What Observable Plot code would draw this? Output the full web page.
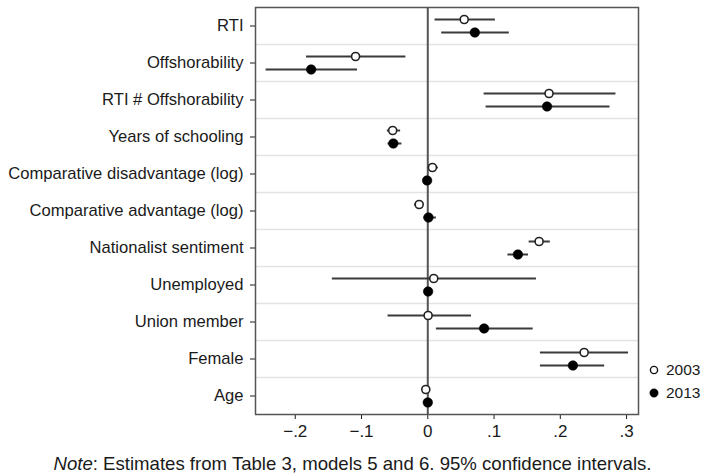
<!DOCTYPE html>
<html>
<head>
<meta charset="utf-8">
<script src="https://cdn.jsdelivr.net/npm/d3@7"></script>
<script src="https://cdn.jsdelivr.net/npm/@observablehq/plot@0.6"></script>
<style>
  html, body { margin: 0; padding: 0; background: #fff; }
</style>
</head>
<body>
<div id="chart"></div>
<script>
const variables = ["RTI", "Offshorability", "RTI # Offshorability", "Years of schooling",
  "Comparative disadvantage (log)", "Comparative advantage (log)", "Nationalist sentiment",
  "Unemployed", "Union member", "Female", "Age"];
const est2003 = [0.055, -0.109, 0.183, -0.053, 0.007, -0.013, 0.168, 0.009, 0.0005, 0.236, -0.003];
const lo2003  = [0.011, -0.183, 0.085, -0.061, 0.001, -0.020, 0.153, -0.144, -0.060, 0.170, -0.006];
const hi2003  = [0.102, -0.033, 0.284, -0.041, 0.016, -0.007, 0.185, 0.164, 0.066, 0.303, 0.000];
const est2013 = [0.071, -0.176, 0.180, -0.052, -0.001, 0.001, 0.136, 0.0005, 0.085, 0.219, 0.000];
const lo2013  = [0.021, -0.244, 0.088, -0.060, -0.006, -0.006, 0.121, -0.005, 0.013, 0.170, -0.004];
const hi2013  = [0.123, -0.106, 0.275, -0.039, 0.005, 0.013, 0.152, 0.005, 0.159, 0.267, 0.004];
const xTicks = [-0.2, -0.1, 0, 0.1, 0.2, 0.3];
const years = ["2003", "2013"];
const caption = ["Note", ": Estimates from Table 3, models 5 and 6. 95% confidence intervals."];

const d03 = variables.map((v, i) => ({v, est: est2003[i], lo: lo2003[i], hi: hi2003[i]}));
const d13 = variables.map((v, i) => ({v, est: est2013[i], lo: lo2013[i], hi: hi2013[i]}));

const fmt = d => d === 0 ? "0" : d3.format(".1f")(d).replace("0.", ".");
const off = 6.5;
const lineColor = "#3a3a3a";
const font = "'Liberation Sans', Arial, sans-serif";

const plot = Plot.plot({
  width: 705,
  height: 476,
  marginLeft: 255,
  marginRight: 67,
  marginTop: 7,
  marginBottom: 62,
  style: {fontFamily: font, fontSize: "16px", color: "#1a1a1a"},
  x: {domain: [-0.26, 0.318], label: null},
  y: {type: "band", domain: variables, padding: 0, label: null},
  marks: [
    Plot.ruleY(variables.slice(1), {stroke: "#e3e3e3", strokeWidth: 1.5, dy: -18.5}),
    Plot.ruleX([0], {stroke: "#555", strokeWidth: 2}),
    Plot.ruleY(d03, {y: "v", x1: "lo", x2: "hi", dy: -off, stroke: lineColor, strokeWidth: 2}),
    Plot.ruleY(d13, {y: "v", x1: "lo", x2: "hi", dy: off, stroke: lineColor, strokeWidth: 2}),
    Plot.dot(d03, {y: "v", x: "est", dy: -off, r: 4, fill: "white", stroke: "#222", strokeWidth: 1.6}),
    Plot.dot(d13, {y: "v", x: "est", dy: off, r: 4.8, fill: "#000", stroke: "#000", strokeWidth: 0.5}),
    Plot.axisX({ticks: xTicks, tickFormat: fmt, tickSize: 5, tickPadding: 5, fontSize: 17, label: null}),
    Plot.axisY({tickSize: 5, tickPadding: 7, fontSize: 16.6, label: null}),
    Plot.frame({stroke: "#555", strokeWidth: 1.5})
  ]
});
document.getElementById("chart").appendChild(plot);

const svg = d3.select(plot);
// legend
const leg = svg.append("g").attr("font-size", 15.5).attr("fill", "#1a1a1a").attr("text-anchor", "start");
years.forEach((yr, i) => {
  const cy = 370 + i * 23;
  leg.append("circle").attr("cx", 654).attr("cy", cy).attr("r", i === 0 ? 3.6 : 4.2)
    .attr("fill", i === 0 ? "white" : "black").attr("stroke", "#111").attr("stroke-width", i === 0 ? 1.4 : 0.5);
  leg.append("text").attr("x", 666).attr("y", cy).attr("dy", "0.35em").text(yr);
});
// caption
const cap = svg.append("text").attr("x", 352.5).attr("y", 463).attr("dy", "0.35em")
  .attr("text-anchor", "middle").attr("font-size", 18.6).attr("fill", "#1a1a1a");
cap.append("tspan").attr("font-style", "italic").text(caption[0]);
cap.append("tspan").text(caption[1]);
</script>
</body>
</html>
